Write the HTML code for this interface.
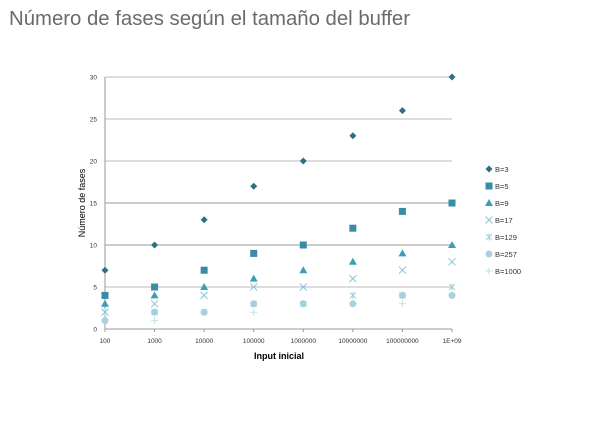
<!DOCTYPE html>
<html><head><meta charset="utf-8"><style>
body{margin:0;background:#fff;width:598px;height:424px;overflow:hidden;font-family:"Liberation Sans",sans-serif}
</style></head><body>
<svg width="598" height="424">
<text x="9" y="25" font-size="20" textLength="401" lengthAdjust="spacingAndGlyphs" fill="#6b6b6b">Número de fases según el tamaño del buffer</text>
<g id="grid"></g><g id="axes"></g><g id="marks"></g><g id="legend"></g>
<text x="279" y="359" font-size="9" font-weight="bold" text-anchor="middle" fill="#000">Input inicial</text>
<text transform="translate(85,203) rotate(-90)" font-size="9" text-anchor="middle" fill="#000">Número de fases</text>
</svg>
<script>
const categories=["100","1000","10000","100000","1000000","10000000","100000000","1E+09"];
const yTicks=[0,5,10,15,20,25,30];
const seriesNames=["B=3","B=5","B=9","B=17","B=129","B=257","B=1000"];
const b3=[7,10,13,17,20,23,26,30];
const b5=[4,5,7,9,10,12,14,15];
const b9=[3,4,5,6,7,8,9,10];
const b17=[2,3,4,5,5,6,7,8];
const b129=[2,2,2,3,3,4,4,5];
const b257=[1,2,2,3,3,3,4,4];
const b1000=[1,1,2,2,3,3,3,4];
const series=[b3,b5,b9,b17,b129,b257,b1000];
const colors=["#2f6f85","#3a8ca3","#3f9db5","#86c4d6","#a2d0de","#a9d2de","#c3e1ea"];
const NS="http://www.w3.org/2000/svg";
const x0=105,x1=452,y0=329,y1=77;
const xs=i=>x0+i*(x1-x0)/(categories.length-1);
const ys=v=>y0-v*(y0-y1)/30;
function mk(t,a,p){const e=document.createElementNS(NS,t);for(const k in a)e.setAttribute(k,a[k]);p.appendChild(e);return e;}
const G=document.getElementById('grid'),A=document.getElementById('axes'),M=document.getElementById('marks'),L=document.getElementById('legend');
yTicks.forEach(v=>{
 if(v>0){const l=mk('line',{x1:x0,x2:x1,y1:ys(v),y2:ys(v),stroke:(v==10||v==15)?'#999':'#bbb','stroke-width':1},G);
 
 }
 const t=mk('text',{x:x0-8,y:ys(v)+2.5,'font-size':6.5,'text-anchor':'end',fill:'#333'},A);t.textContent=v;
 
 
});
const ax=mk('line',{x1:x0,x2:x0,y1:y1,y2:y0,stroke:'#999'},A);


const bx=mk('line',{x1:x0,x2:x1,y1:y0,y2:y0,stroke:'#999'},A);


categories.forEach((c,i)=>{
 mk('line',{x1:xs(i),x2:xs(i),y1:y0,y2:y0+3,stroke:'#999'},A);
 const t=mk('text',{x:xs(i),y:y0+14,'font-size':6.5,'text-anchor':'middle',fill:'#333'},A);t.textContent=c;
 
 
});
function marker(k,x,y,p){
 const c=colors[k];
 if(k==0)return mk('path',{d:`M${x} ${y-3.5}L${x+3.5} ${y}L${x} ${y+3.5}L${x-3.5} ${y}Z`,fill:c},p);
 if(k==1)return mk('rect',{x:x-3.5,y:y-3.5,width:7,height:7,fill:c},p);
 if(k==2)return mk('path',{d:`M${x} ${y-4}L${x+4} ${y+3}L${x-4} ${y+3}Z`,fill:c},p);
 if(k==3)return mk('path',{d:`M${x-3.5} ${y-3.5}L${x+3.5} ${y+3.5}M${x+3.5} ${y-3.5}L${x-3.5} ${y+3.5}`,stroke:c,'stroke-width':1},p);
 if(k==4)return mk('path',{d:`M${x-3} ${y-3}L${x+3} ${y+3}M${x+3} ${y-3}L${x-3} ${y+3}M${x} ${y-3.5}L${x} ${y+3.5}`,stroke:c,'stroke-width':1},p);
 if(k==5)return mk('circle',{cx:x,cy:y,r:3.5,fill:c},p);
 return mk('path',{d:`M${x-3.5} ${y}L${x+3.5} ${y}M${x} ${y-3.5}L${x} ${y+3.5}`,stroke:c,'stroke-width':1},p);
}
for(let k=series.length-1;k>=0;k--){
 series[k].forEach((v,i)=>{
  const m=marker(k,xs(i),ys(v),M);
  
  
 });
}
seriesNames.forEach((n,k)=>{
 const y=169+k*17;
 const g=mk('g',{},L);
 
 
 marker(k,489,y,g);
 const t=mk('text',{x:495,y:y+3,'font-size':7.5,fill:'#333'},g);t.textContent=n;
});
</script>
</body></html>
